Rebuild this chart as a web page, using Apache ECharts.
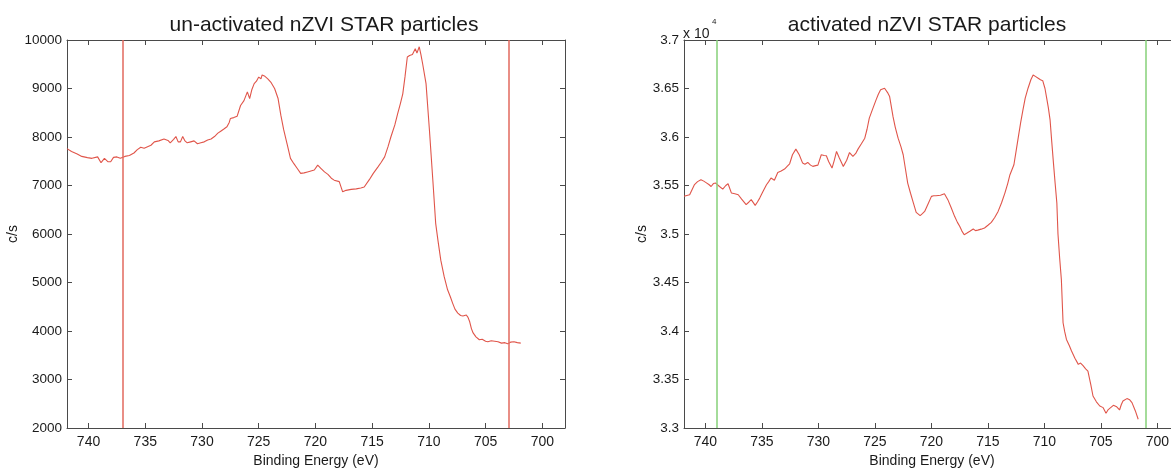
<!DOCTYPE html>
<html>
<head>
<meta charset="utf-8">
<script src="https://cdn.jsdelivr.net/npm/echarts@6/dist/echarts.min.js"></script>
<style>
html,body{margin:0;padding:0;background:#fff;}
#chart{width:1171px;height:469px;}
</style>
</head>
<body>
<div id="chart"></div>
<script>
// ---- Data ----
const titles = ["un-activated nZVI STAR particles", "activated nZVI STAR particles"];
const xAxisName = "Binding Energy (eV)";
const yAxisName = "c/s";
const xTickValues = [740, 735, 730, 725, 720, 715, 710, 705, 700];
const xRange = [698, 741.9];
const leftYRange = [2000, 10000];
const rightYRange = [33000, 37000];
const rightScaleLabel = "x 10";
const rightScaleExp = "4";

const leftMarkers = [737, 703];
const rightMarkers = [739, 701];

const leftE = [741.9,741.5,741.0,740.6,740.1,739.7,739.2,738.9,738.6,738.3,738.05,737.8,737.5,737.2,736.8,736.4,736.0,735.7,735.4,735.1,734.8,734.5,734.2,733.8,733.35,733.0,732.8,732.5,732.3,732.1,731.9,731.7,731.5,731.3,731.0,730.7,730.4,730.1,729.8,729.5,729.2,728.9,728.6,728.35,728.1,727.8,727.6,727.5,727.2,726.9,726.6,726.3,726.0,725.8,725.6,725.4,725.2,725.0,724.8,724.7,724.5,724.2,723.9,723.6,723.3,723.05,722.8,722.5,722.2,721.9,721.6,721.3,721.0,720.7,720.4,720.1,719.8,719.5,719.2,718.9,718.6,718.35,717.9,717.6,717.3,716.85,716.4,716.0,715.7,715.25,714.9,714.5,714.2,713.9,713.6,713.35,713.0,712.75,712.5,712.3,712.1,711.9,711.7,711.45,711.2,711.05,710.85,710.7,710.55,710.25,709.95,709.65,709.4,709.2,708.95,708.65,708.35,708.1,707.9,707.7,707.45,707.2,707.0,706.7,706.55,706.4,706.25,706.1,705.85,705.55,705.3,705.0,704.8,704.5,704.2,703.9,703.6,703.3,703.05,702.8,702.5,702.2,701.9];
const leftCps = [7760,7700,7650,7600,7575,7560,7590,7470,7560,7490,7490,7580,7590,7560,7600,7620,7670,7740,7790,7770,7800,7830,7900,7920,7960,7930,7880,7950,8010,7900,7900,8010,7920,7880,7900,7920,7860,7880,7900,7940,7960,8010,8080,8120,8160,8210,8300,8380,8400,8430,8650,8750,8930,8790,8980,9100,9150,9235,9200,9280,9260,9200,9120,9000,8800,8450,8150,7860,7560,7450,7350,7250,7260,7280,7300,7320,7420,7350,7280,7230,7150,7110,7080,6870,6900,6920,6930,6950,6970,7120,7250,7380,7480,7590,7800,8000,8250,8480,8700,8890,9250,9650,9680,9700,9820,9730,9860,9700,9510,9100,8140,7110,6220,5870,5460,5120,4850,4700,4570,4450,4370,4320,4310,4330,4280,4190,4050,3960,3880,3820,3830,3790,3780,3800,3790,3780,3750,3760,3735,3770,3780,3760,3750];

const rightE = [741.9,741.4,740.97,740.7,740.4,740.15,739.95,739.7,739.5,739.3,739.1,738.76,738.47,738.2,738.0,737.7,737.4,737.1,736.8,736.4,736.15,735.95,735.6,735.4,735.2,734.9,734.6,734.4,734.2,733.9,733.6,733.3,733.0,732.75,732.55,732.3,732.0,731.7,731.4,731.2,730.95,730.7,730.5,730.25,730.05,729.75,729.5,729.3,729.1,728.8,728.6,728.4,728.15,727.8,727.5,727.25,726.95,726.7,726.5,726.2,725.9,725.7,725.5,725.2,724.9,724.7,724.5,724.15,723.85,723.7,723.4,723.2,722.95,722.7,722.5,722.3,722.1,721.85,721.6,721.35,721.0,720.8,720.6,720.3,720.0,719.8,719.6,719.2,718.85,718.55,718.25,717.95,717.7,717.5,717.3,717.1,716.85,716.6,716.3,716.1,715.9,715.6,715.3,715.0,714.7,714.4,714.1,713.8,713.5,713.25,713.05,712.7,712.5,712.3,712.1,711.9,711.7,711.45,711.2,711.0,710.8,710.55,710.35,710.15,709.95,709.8,709.65,709.5,709.35,709.2,709.05,708.9,708.8,708.65,708.5,708.35,708.2,708.05,707.8,707.6,707.3,707.0,706.8,706.6,706.35,706.15,705.9,705.7,705.4,705.1,704.8,704.55,704.35,704.2,703.9,703.6,703.35,703.2,703.05,702.7,702.45,702.25,701.95,701.7];
const rightCps = [35390,35405,35510,35540,35560,35545,35530,35510,35490,35520,35525,35490,35463,35500,35518,35422,35415,35405,35360,35302,35330,35354,35295,35330,35370,35440,35508,35540,35577,35555,35635,35650,35670,35700,35724,35817,35875,35817,35731,35720,35738,35710,35697,35705,35710,35817,35810,35807,35748,35680,35760,35851,35783,35697,35760,35840,35800,35830,35875,35930,35988,36080,36194,36290,36383,36440,36486,36503,36452,36417,36210,36100,35988,35900,35817,35670,35525,35420,35320,35223,35189,35210,35233,35310,35388,35394,35394,35400,35415,35354,35270,35182,35120,35079,35030,34993,35010,35028,35052,35035,35040,35050,35062,35090,35120,35170,35233,35320,35422,35520,35611,35714,35860,36006,36150,36280,36400,36503,36590,36640,36625,36606,36590,36581,36500,36400,36300,36177,35950,35731,35520,35320,35000,34750,34530,34085,33990,33913,33850,33793,33720,33656,33670,33645,33610,33587,33450,33330,33270,33227,33210,33152,33190,33210,33234,33218,33186,33240,33278,33303,33290,33262,33176,33090];

// ---- Styles ----
const FONT = "Liberation Sans, Arial, sans-serif";
const AXIS_COLOR = "#4a4a4a";
const TEXT_COLOR = "#1a1a1a";
const CURVE_COLOR = "#e0554a";
const RED_MARK = "#e2685e";
const GREEN_MARK = "#86d078";

const grids = [
  {left: 67, top: 40, width: 498, height: 388, outerBoundsMode: 'none', containLabel: false},
  {left: 684, top: 40, width: 496, height: 388, outerBoundsMode: 'none', containLabel: false}
];

function pairs(xs, ys) { return xs.map((x, i) => [x, ys[i]]); }

function bottomX(gi) {
  return {
    type: 'value', gridIndex: gi, inverse: true, min: xRange[0], max: xRange[1],
    position: 'bottom',
    name: xAxisName, nameLocation: 'middle', nameGap: 26,
    nameTextStyle: {fontFamily: FONT, fontSize: 14, color: TEXT_COLOR},
    axisLine: {show: true, lineStyle: {color: AXIS_COLOR, width: 1}},
    axisTick: {show: true, inside: true, length: 5, customValues: xTickValues, lineStyle: {color: AXIS_COLOR}},
    axisLabel: {show: true, customValues: xTickValues, margin: 7, fontFamily: FONT, fontSize: 14, color: TEXT_COLOR},
    splitLine: {show: false}
  };
}
function topX(gi) {
  return {
    type: 'value', gridIndex: gi, inverse: true, min: xRange[0], max: xRange[1],
    position: 'top',
    axisLine: {show: true, lineStyle: {color: AXIS_COLOR, width: 1}},
    axisTick: {show: true, inside: true, length: 5, customValues: xTickValues, lineStyle: {color: AXIS_COLOR}},
    axisLabel: {show: false},
    splitLine: {show: false}
  };
}
function leftY(gi, range, interval, fmt, gap) {
  return {
    type: 'value', gridIndex: gi, min: range[0], max: range[1], interval: interval,
    position: 'left',
    name: yAxisName, nameLocation: 'middle', nameGap: gap, nameRotate: 90,
    nameTextStyle: {fontFamily: FONT, fontSize: 14, color: TEXT_COLOR},
    axisLine: {show: true, lineStyle: {color: AXIS_COLOR, width: 1}},
    axisTick: {show: true, inside: true, length: 5, lineStyle: {color: AXIS_COLOR}},
    axisLabel: {show: true, margin: 5, fontFamily: FONT, fontSize: 13.5, color: TEXT_COLOR, formatter: fmt},
    splitLine: {show: false}
  };
}
function rightY(gi, range, interval) {
  return {
    type: 'value', gridIndex: gi, min: range[0], max: range[1], interval: interval,
    position: 'right',
    axisLine: {show: true, lineStyle: {color: AXIS_COLOR, width: 1}},
    axisTick: {show: true, inside: true, length: 5, lineStyle: {color: AXIS_COLOR}},
    axisLabel: {show: false},
    splitLine: {show: false}
  };
}

function curve(xi, yi, data, markers, markColor) {
  return {
    type: 'line', xAxisIndex: xi, yAxisIndex: yi, data: data,
    showSymbol: false, symbol: 'none', smooth: false, animation: false,
    lineStyle: {color: CURVE_COLOR, width: 1.1},
    markLine: {
      symbol: 'none', silent: true, animation: false,
      label: {show: false},
      lineStyle: {type: 'solid', color: markColor, width: 1.5},
      data: markers.map(v => ({xAxis: v}))
    }
  };
}

const chart = echarts.init(document.getElementById('chart'), null, {renderer: 'canvas'});
chart.setOption({
  backgroundColor: '#ffffff',
  animation: false,
  title: [
    {text: titles[0], left: 319, top: 10, textAlign: 'center',
     textStyle: {fontFamily: FONT, fontSize: 21, fontWeight: 'normal', color: TEXT_COLOR}},
    {text: titles[1], left: 922, top: 10, textAlign: 'center',
     textStyle: {fontFamily: FONT, fontSize: 21, fontWeight: 'normal', color: TEXT_COLOR}}
  ],
  grid: grids,
  xAxis: [bottomX(0), topX(0), bottomX(1), topX(1)],
  yAxis: [
    leftY(0, leftYRange, 1000, v => String(v), 42),
    rightY(0, leftYRange, 1000),
    leftY(1, rightYRange, 500, v => String(v / 10000), 30),
    rightY(1, rightYRange, 500)
  ],
  series: [
    curve(0, 0, pairs(leftE, leftCps), leftMarkers, RED_MARK),
    curve(2, 2, pairs(rightE, rightCps), rightMarkers, GREEN_MARK)
  ],
  graphic: [
    {type: 'text', left: 683, top: 27, style: {text: rightScaleLabel, fontFamily: FONT, fontSize: 14, fill: TEXT_COLOR}},
    {type: 'text', left: 712, top: 18, style: {text: rightScaleExp, fontFamily: FONT, fontSize: 8, fill: TEXT_COLOR}}
  ]
});
</script>
</body>
</html>
